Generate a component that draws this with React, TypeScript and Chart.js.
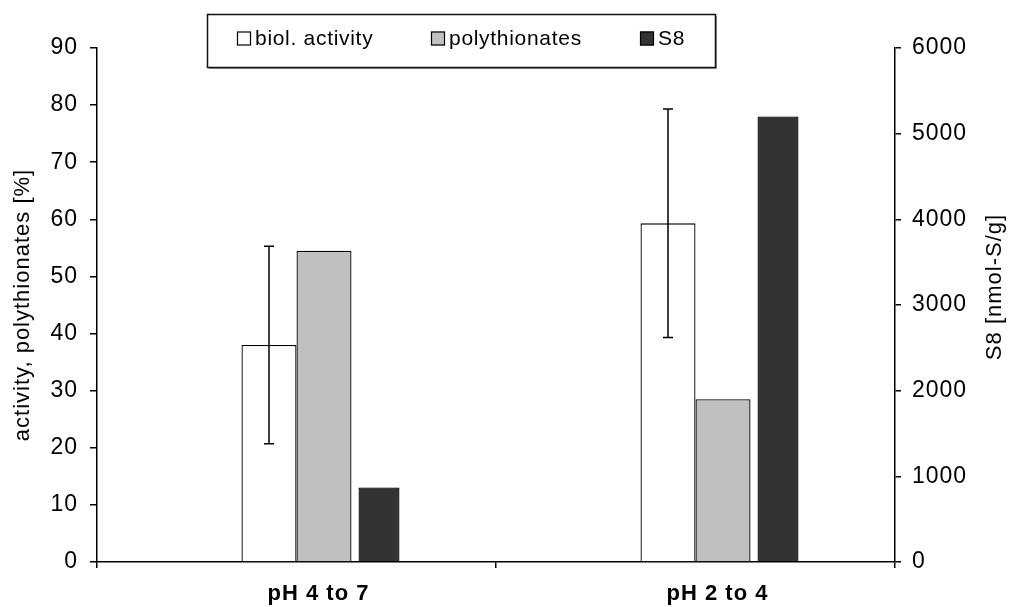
import { useEffect, useRef } from "react";
import { Chart, registerables } from "chart.js";

Chart.register(...registerables);

// ---- data ----
const categories = ["pH 4 to 7", "pH 2 to 4"];
const seriesNames = ["biol. activity", "polythionates", "S8"];
const activity = [38.0, 59.3];
const activityError = [17.3, 20.0];
const polythionates = [54.5, 28.5];
const s8 = [870, 5200];
const leftTicks = [0, 10, 20, 30, 40, 50, 60, 70, 80, 90];
const rightTicks = [0, 1000, 2000, 3000, 4000, 5000, 6000];
const leftTitle = "activity, polythionates [%]";
const rightTitle = "S8 [nmol-S/g]";

// ---- styling ----
const FONT = "'Liberation Sans', Arial, Helvetica, sans-serif";
const INK = "#000000";
const fills = ["#ffffff", "#c0c0c0", "#333333"];
const SPACING = "1px";

// slightly open glyph spacing for every text the chart draws
const textSpacing = {
  id: "textSpacing",
  beforeUpdate(chart: any) {
    chart.ctx.letterSpacing = SPACING;
  },
  beforeDraw(chart: any) {
    chart.ctx.letterSpacing = SPACING;
  },
};

// whiskers on the activity bars
const errorBars = {
  id: "errorBars",
  afterDatasetsDraw(chart: any) {
    const meta = chart.getDatasetMeta(1);
    const y = chart.scales.y;
    const ctx = chart.ctx;
    ctx.save();
    ctx.strokeStyle = INK;
    ctx.lineWidth = 1.5;
    meta.data.forEach((bar: any, i: number) => {
      const top = y.getPixelForValue(activity[i] + activityError[i]);
      const bot = y.getPixelForValue(activity[i] - activityError[i]);
      const x = bar.x;
      ctx.beginPath();
      ctx.moveTo(x, top);
      ctx.lineTo(x, bot);
      ctx.moveTo(x - 5, top);
      ctx.lineTo(x + 5, top);
      ctx.moveTo(x - 5, bot);
      ctx.lineTo(x + 5, bot);
      ctx.stroke();
    });
    ctx.restore();
  },
};

// framed legend above the plot and the right-hand axis title
const framedLegend = {
  id: "framedLegend",
  afterDraw(chart: any) {
    const ctx = chart.ctx;
    ctx.save();
    ctx.letterSpacing = "0.7px";
    const bx = 207, by = 14, bw = 508, bh = 53;
    ctx.fillStyle = "#ffffff";
    ctx.fillRect(bx, by, bw, bh);
    ctx.strokeStyle = "#9a9a9a";
    ctx.lineWidth = 1;
    ctx.beginPath();
    ctx.moveTo(bx + 2, by + bh + 1.5);
    ctx.lineTo(bx + bw + 1.5, by + bh + 1.5);
    ctx.lineTo(bx + bw + 1.5, by + 2);
    ctx.stroke();
    ctx.strokeStyle = "#111111";
    ctx.lineWidth = 1.5;
    ctx.strokeRect(bx + 0.5, by + 0.5, bw, bh);

    const itemX = [237, 431, 640];
    const sw = 14;
    const midY = 38.5;
    ctx.font = `21px ${FONT}`;
    ctx.textBaseline = "middle";
    ctx.textAlign = "left";
    seriesNames.forEach((name, i) => {
      const ds = chart.data.datasets[i + 1];
      ctx.fillStyle = ds.backgroundColor;
      ctx.fillRect(itemX[i], midY - sw / 2, sw, sw);
      ctx.strokeStyle = INK;
      ctx.lineWidth = 1.2;
      ctx.strokeRect(itemX[i] + 0.5, midY - sw / 2 + 0.5, sw - 1, sw - 1);
      ctx.fillStyle = INK;
      ctx.fillText(name, itemX[i] + sw + 4, midY + 1);
    });

    const area = chart.chartArea;
    ctx.letterSpacing = SPACING;
    ctx.font = `22px ${FONT}`;
    ctx.textAlign = "center";
    ctx.textBaseline = "middle";
    ctx.fillStyle = INK;
    ctx.translate(area.right + 100, (area.top + area.bottom) / 2 - 18);
    ctx.rotate(-Math.PI / 2);
    ctx.fillText(rightTitle, 0, 0);
    ctx.restore();
  },
};

export default function App() {
  const canvasRef = useRef<HTMLCanvasElement | null>(null);

  useEffect(() => {
    const canvas = canvasRef.current;
    if (!canvas) return;

    Chart.defaults.font.family = FONT;
    Chart.defaults.color = INK;

    const slotWidth = 55;
    const catPct = (slotWidth * 4) / 399;

    const chart = new Chart(canvas, {
      type: "bar",
      data: {
        labels: categories,
        datasets: [
          {
            // empty leading slot so the white/grey pair straddles the category centre
            label: "",
            data: categories.map(() => null),
            yAxisID: "y",
            backgroundColor: "rgba(0,0,0,0)",
            borderWidth: 0,
          },
          {
            label: seriesNames[0],
            data: activity,
            yAxisID: "y",
            backgroundColor: fills[0],
            borderColor: INK,
            borderWidth: 1.3,
          },
          {
            label: seriesNames[1],
            data: polythionates,
            yAxisID: "y",
            backgroundColor: fills[1],
            borderColor: INK,
            borderWidth: 1.3,
          },
          {
            label: seriesNames[2],
            data: s8,
            yAxisID: "y1",
            backgroundColor: fills[2],
            borderColor: INK,
            borderWidth: 1.3,
            barPercentage: 41 / slotWidth,
          },
        ] as any,
      },
      options: {
        responsive: false,
        devicePixelRatio: 1,
        animation: false,
        events: [],
        datasets: {
          bar: {
            categoryPercentage: catPct,
            barPercentage: 1,
          },
        },
        layout: { padding: { top: 48, left: 0, right: 0, bottom: 0 } },
        plugins: {
          legend: { display: false },
          tooltip: { enabled: false },
          title: { display: false },
        },
        scales: {
          x: {
            type: "category",
            offset: true,
            z: 1,
            grid: {
              display: true,
              offset: true,
              drawOnChartArea: false,
              drawTicks: true,
              tickLength: 6,
              color: INK,
              lineWidth: 1.5,
            },
            border: { display: true, color: INK, width: 1.5 },
            ticks: {
              color: INK,
              font: { size: 22, weight: "bold" },
              padding: 13,
              maxRotation: 0,
              minRotation: 0,
              autoSkip: false,
              labelOffset: 22,
            },
            afterFit: (s: any) => {
              s.height = 45;
            },
          },
          y: {
            type: "linear",
            position: "left",
            min: 0,
            max: 90,
            z: 1,
            afterBuildTicks: (s: any) => {
              s.ticks = leftTicks.map((v) => ({ value: v }));
            },
            grid: {
              display: true,
              drawOnChartArea: false,
              drawTicks: true,
              tickLength: 7,
              color: INK,
              lineWidth: 1.5,
            },
            border: { display: true, color: INK, width: 1.5 },
            ticks: {
              color: INK,
              font: { size: 23 },
              padding: 12,
              callback: (v: any) => String(v),
            },
            title: {
              display: true,
              text: leftTitle,
              color: INK,
              font: { size: 22 },
              padding: { top: 10, bottom: 0 },
            },
            afterFit: (s: any) => {
              s.width = 97;
            },
          },
          y1: {
            type: "linear",
            position: "right",
            min: 0,
            max: 6000,
            z: 1,
            afterBuildTicks: (s: any) => {
              s.ticks = rightTicks.map((v) => ({ value: v }));
            },
            grid: {
              display: true,
              drawOnChartArea: false,
              drawTicks: true,
              tickLength: 6,
              color: INK,
              lineWidth: 1.5,
            },
            border: { display: true, color: INK, width: 1.5 },
            ticks: {
              color: INK,
              font: { size: 23 },
              padding: 11,
              callback: (v: any) => String(v),
            },
            afterFit: (s: any) => {
              s.width = 117;
            },
          },
        },
      } as any,
      plugins: [textSpacing, errorBars, framedLegend],
    });

    return () => chart.destroy();
  }, []);

  return (
    <div
      style={{
        position: "fixed",
        left: 0,
        top: 0,
        width: 1012,
        height: 607,
        background: "#ffffff",
      }}
    >
      <canvas
        ref={canvasRef}
        width={1012}
        height={607}
        style={{ display: "block", width: 1012, height: 607 }}
      />
    </div>
  );
}
